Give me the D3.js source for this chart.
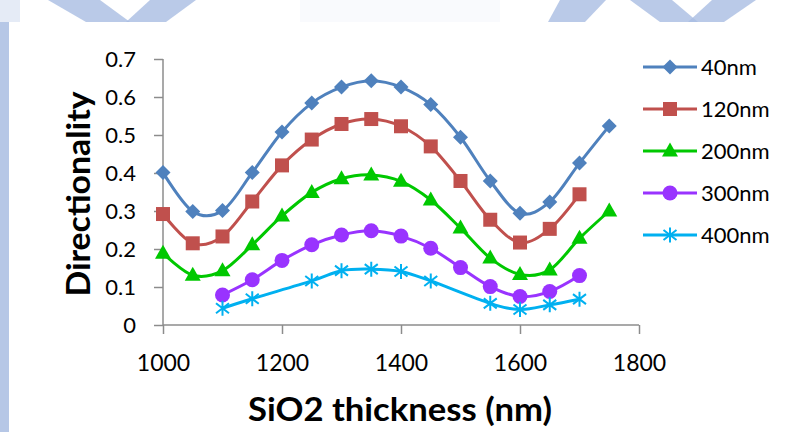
<!DOCTYPE html>
<html>
<head>
<meta charset="utf-8">
<script src="https://cdn.jsdelivr.net/npm/d3@7"></script>
<style>
  html, body { margin: 0; padding: 0; background: #ffffff; }
  svg { display: block; }
</style>
</head>
<body>
<svg id="chart" width="789" height="432"></svg>
<script>
// ---------- data ----------
const thickness = [1000, 1050, 1100, 1150, 1200, 1250, 1300, 1350, 1400, 1450, 1500, 1550, 1600, 1650, 1700, 1750];
const seriesNames = ["40nm", "120nm", "200nm", "300nm", "400nm"];
const d40  = [0.401, 0.299, 0.301, 0.401, 0.508, 0.584, 0.626, 0.643, 0.626, 0.580, 0.494, 0.379, 0.294, 0.324, 0.426, 0.524];
const d120 = [0.292, 0.215, 0.233, 0.325, 0.420, 0.488, 0.529, 0.542, 0.523, 0.470, 0.379, 0.277, 0.217, 0.253, 0.344, null];
const d200 = [0.189, 0.131, 0.143, 0.211, 0.287, 0.349, 0.385, 0.395, 0.378, 0.329, 0.255, 0.176, 0.133, 0.145, 0.228, 0.300];
const d300 = [null, null, 0.079, 0.119, 0.170, 0.211, 0.237, 0.248, 0.234, 0.202, 0.151, 0.101, 0.075, 0.088, 0.130, null];
const d400 = [null, null, 0.044, 0.069, null, 0.116, 0.143, 0.147, 0.141, 0.116, null, 0.057, 0.041, 0.053, 0.068, null];
const seriesValues = [d40, d120, d200, d300, d400];
const seriesColors = ["#4F81BD", "#C0504D", "#00C800", "#9933FF", "#00B0F0"];
const seriesMarkers = ["diamond", "square", "triangle", "circle", "star"];
const xTicks = [1000, 1200, 1400, 1600, 1800];
const yTicks = [0, 0.1, 0.2, 0.3, 0.4, 0.5, 0.6, 0.7];
const xTitle = "SiO2 thickness (nm)";
const yTitle = "Directionality";

// ---------- layout ----------
const svg = d3.select("#chart");
const FONT = "Lato, 'Open Sans', 'Noto Sans', sans-serif";
const x = d3.scaleLinear().domain([1000, 1800]).range([163, 639]);
const y = d3.scaleLinear().domain([0, 0.7]).range([325, 59]);
const axisColor = "#8C8C8C";

// ---------- watermark background (decorative) ----------
const wm = svg.append("g").attr("fill", "#A9BDE2");
wm.append("rect").attr("x", 0).attr("y", 22).attr("width", 9).attr("height", 410).attr("opacity", 0.85);
const wmPolys = [
  [[48,0],[100,0],[130,22],[86,22]],
  [[150,0],[196,0],[166,22],[126,22]],
  [[300,0],[500,0],[500,22],[300,22]],
  [[560,0],[606,0],[585,22],[548,22]],
  [[630,0],[672,0],[698,22],[660,22]],
  [[712,0],[756,0],[724,22],[688,22]],
  [[0,0],[20,0],[20,22],[0,22]]
];
wmPolys.forEach((p, i) => {
  wm.append("path").attr("d", "M" + p.join("L") + "Z").attr("opacity", i === 2 ? 0.07 : (i === 6 ? 0.3 : 0.8));
});

// ---------- axes ----------
const gx = svg.append("g").attr("transform", "translate(0,325)")
  .call(d3.axisBottom(x).tickValues(xTicks).tickSize(9).tickFormat(d3.format("d")));
const gy = svg.append("g").attr("transform", "translate(163,0)")
  .call(d3.axisLeft(y).tickValues(yTicks).tickSize(9).tickPadding(18).tickFormat(d => d === 0 ? "0" : d3.format(".1f")(d)));
[gx, gy].forEach(g => {
  g.selectAll("path.domain").attr("stroke", axisColor).attr("stroke-width", 1.5);
  g.selectAll(".tick line").attr("stroke", axisColor).attr("stroke-width", 1.5);
  g.selectAll("text").attr("font-family", FONT).attr("fill", "#000");
});
gx.select("path.domain").attr("d", "M" + x(1000) + ",0H" + x(1800));
gy.select("path.domain").attr("d", "M0," + y(0.7) + "V" + y(0));
gx.selectAll("text").attr("font-size", 23).attr("y", 46).attr("dy", null);
gy.selectAll("text").attr("font-size", 22).attr("dy", "0.35em");

// ---------- titles ----------
svg.append("text").attr("x", 400).attr("y", 421).attr("text-anchor", "middle")
  .attr("font-family", FONT).attr("font-weight", 700).attr("font-size", 33)
  .attr("textLength", 304).attr("lengthAdjust", "spacingAndGlyphs").text(xTitle);
svg.append("text").attr("transform", "translate(90,194) rotate(-90)").attr("text-anchor", "middle")
  .attr("font-family", FONT).attr("font-weight", 700).attr("font-size", 33)
  .attr("textLength", 205).attr("lengthAdjust", "spacingAndGlyphs").text(yTitle);

// ---------- markers ----------
function drawMarker(g, type, color) {
  if (type === "diamond") g.append("path").attr("d", "M0,-7.5L7.5,0L0,7.5L-7.5,0Z").attr("fill", color);
  else if (type === "square") g.append("rect").attr("x", -7).attr("y", -7).attr("width", 14).attr("height", 14).attr("fill", color);
  else if (type === "triangle") g.append("path").attr("d", "M0,-8.5L8,5.5L-8,5.5Z").attr("fill", color);
  else if (type === "circle") g.append("circle").attr("r", 7.5).attr("fill", color);
  else if (type === "star") g.append("path").attr("d", "M0,-7.5V7.5M-6.5,-5L6.5,5M-6.5,5L6.5,-5")
    .attr("stroke", color).attr("stroke-width", 2).attr("fill", "none");
}

// ---------- series ----------
const line = d3.line().x(d => x(d[0])).y(d => y(d[1])).curve(d3.curveCardinal.tension(0));
seriesNames.forEach((name, i) => {
  const pts = thickness.map((t, j) => [t, seriesValues[i][j]]).filter(d => d[1] !== null);
  const g = svg.append("g");
  g.append("path").datum(pts).attr("d", line).attr("fill", "none")
    .attr("stroke", seriesColors[i]).attr("stroke-width", 3).attr("stroke-linejoin", "round");
  pts.forEach(p => {
    const m = g.append("g").attr("transform", `translate(${x(p[0])},${y(p[1])})`);
    drawMarker(m, seriesMarkers[i], seriesColors[i]);
  });
});

// ---------- legend ----------
const legend = svg.append("g");
seriesNames.forEach((name, i) => {
  const ly = 67 + i * 42;
  const g = legend.append("g");
  g.append("line").attr("x1", 643).attr("x2", 697).attr("y1", ly).attr("y2", ly)
    .attr("stroke", seriesColors[i]).attr("stroke-width", 3);
  const m = g.append("g").attr("transform", `translate(670,${ly})`);
  drawMarker(m, seriesMarkers[i], seriesColors[i]);
  g.append("text").attr("x", 701).attr("y", ly).attr("dy", "0.35em")
    .attr("font-family", FONT).attr("font-size", 22).attr("fill", "#000").text(name);
});
</script>
</body>
</html>
